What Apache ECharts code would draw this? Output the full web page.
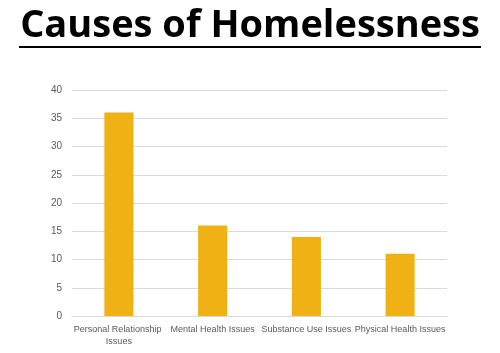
<!DOCTYPE html>
<html>
<head>
<meta charset="utf-8">
<script src="https://cdn.jsdelivr.net/npm/echarts@6/dist/echarts.min.js"></script>
<style>
  html, body { margin: 0; padding: 0; background: #fff; }
  #chart { width: 500px; height: 353px; }
</style>
</head>
<body>
<div id="chart"></div>
<script>
const categories = ['Personal Relationship Issues', 'Mental Health Issues', 'Substance Use Issues', 'Physical Health Issues'];
const values = [36, 16, 14, 11];
const chart = echarts.init(document.getElementById('chart'));
const labelColor = '#595959';
const gridColor = '#d9d9d9';

chart.setOption({
  animation: false,
  title: {
    text: 'Causes of Homelessness',
    left: 'center',
    top: 2,
    textStyle: {
      fontFamily: 'Open Sans',
      fontWeight: 'bold',
      fontSize: 38,
      color: '#000'
    }
  },
  // underline under the title
  graphic: [{
    type: 'rect',
    shape: { x: 19, y: 46, width: 462, height: 2 },
    style: { fill: '#000' }
  }],
  grid: { left: 72, right: 53, top: 90, bottom: 37 },
  xAxis: {
    type: 'category',
    data: categories,
    axisLine: { lineStyle: { color: gridColor } },
    axisTick: { show: false },
    axisLabel: {
      color: labelColor,
      fontFamily: 'Liberation Sans',
      fontSize: 9,
      margin: 8,
      lineHeight: 12,
      width: 95,
      overflow: 'break',
      interval: 0
    }
  },
  yAxis: {
    type: 'value',
    min: 0,
    max: 40,
    interval: 5,
    axisLine: { show: false },
    axisTick: { show: false },
    splitLine: { lineStyle: { color: gridColor } },
    axisLabel: { color: labelColor, fontFamily: 'Liberation Sans', fontSize: 10, margin: 10 }
  },
  series: [{
    type: 'bar',
    data: values,
    barWidth: '31%',
    itemStyle: { color: '#f0b114' }
  }]
});
</script>
</body>
</html>
